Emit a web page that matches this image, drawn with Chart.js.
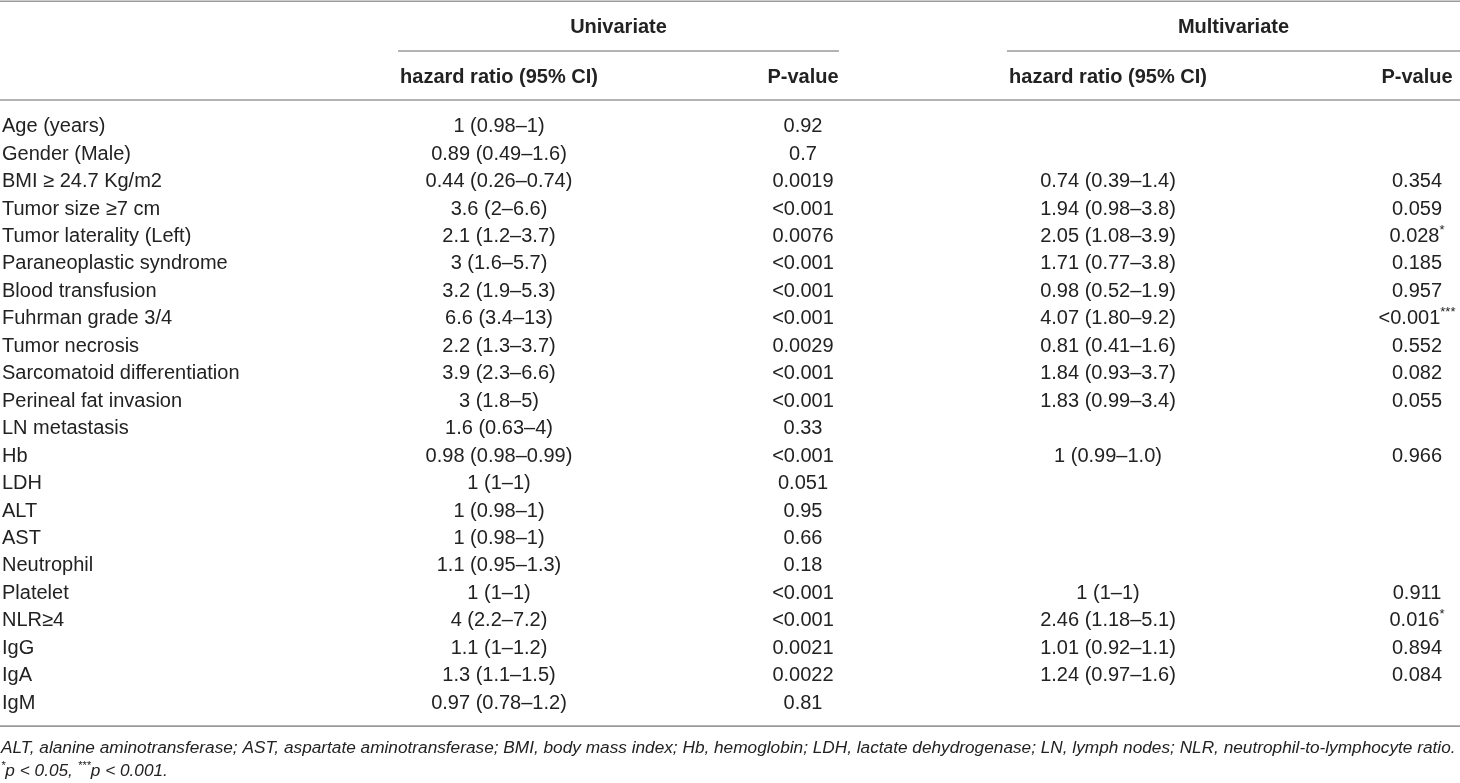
<!DOCTYPE html>
<html>
<head>
<meta charset="utf-8">
<script src="https://cdn.jsdelivr.net/npm/chart.js@4.4.1/dist/chart.umd.min.js"></script>
<style>
  html, body { margin: 0; padding: 0; background: #ffffff; }
  #wrap { width: 1460px; height: 783px; position: relative; }
</style>
</head>
<body>
<div id="wrap"><canvas id="c"></canvas></div>
<script>
// ---------- data ----------
const rowLabels = [
  "Age (years)", "Gender (Male)", "BMI \u2265 24.7 Kg/m2", "Tumor size \u22657 cm",
  "Tumor laterality (Left)", "Paraneoplastic syndrome", "Blood transfusion",
  "Fuhrman grade 3/4", "Tumor necrosis", "Sarcomatoid differentiation",
  "Perineal fat invasion", "LN metastasis", "Hb", "LDH", "ALT", "AST",
  "Neutrophil", "Platelet", "NLR\u22654", "IgG", "IgA", "IgM"
];
const uniHR = [
  "1 (0.98\u20131)", "0.89 (0.49\u20131.6)", "0.44 (0.26\u20130.74)", "3.6 (2\u20136.6)",
  "2.1 (1.2\u20133.7)", "3 (1.6\u20135.7)", "3.2 (1.9\u20135.3)", "6.6 (3.4\u201313)",
  "2.2 (1.3\u20133.7)", "3.9 (2.3\u20136.6)", "3 (1.8\u20135)", "1.6 (0.63\u20134)",
  "0.98 (0.98\u20130.99)", "1 (1\u20131)", "1 (0.98\u20131)", "1 (0.98\u20131)",
  "1.1 (0.95\u20131.3)", "1 (1\u20131)", "4 (2.2\u20137.2)", "1.1 (1\u20131.2)",
  "1.3 (1.1\u20131.5)", "0.97 (0.78\u20131.2)"
];
const uniP = [
  "0.92", "0.7", "0.0019", "<0.001", "0.0076", "<0.001", "<0.001", "<0.001",
  "0.0029", "<0.001", "<0.001", "0.33", "<0.001", "0.051", "0.95", "0.66",
  "0.18", "<0.001", "<0.001", "0.0021", "0.0022", "0.81"
];
const multiHR = [
  null, null, "0.74 (0.39\u20131.4)", "1.94 (0.98\u20133.8)", "2.05 (1.08\u20133.9)",
  "1.71 (0.77\u20133.8)", "0.98 (0.52\u20131.9)", "4.07 (1.80\u20139.2)", "0.81 (0.41\u20131.6)",
  "1.84 (0.93\u20133.7)", "1.83 (0.99\u20133.4)", null, "1 (0.99\u20131.0)", null, null, null,
  null, "1 (1\u20131)", "2.46 (1.18\u20135.1)", "1.01 (0.92\u20131.1)", "1.24 (0.97\u20131.6)", null
];
const multiP = [
  null, null, "0.354", "0.059", "0.028*", "0.185", "0.957", "<0.001***", "0.552",
  "0.082", "0.055", null, "0.966", null, null, null, null, "0.911", "0.016*",
  "0.894", "0.084", null
];
const groupHeaders = ["Univariate", "Multivariate"];
const columnHeaders = ["hazard ratio (95% CI)", "P-value", "hazard ratio (95% CI)", "P-value"];
const footnote1 = "ALT, alanine aminotransferase; AST, aspartate aminotransferase; BMI, body mass index; Hb, hemoglobin; LDH, lactate dehydrogenase; LN, lymph nodes; NLR, neutrophil-to-lymphocyte ratio.";
const footnote2 = [["*", true], ["p < 0.05, ", false], ["***", true], ["p < 0.001.", false]];

// ---------- layout (positions / styles) ----------
const W = 1460, H = 783;
const colX = [2, 499, 803, 1108, 1417];          // label left edge, then column centres
const groupSpan = [[398, 839], [1007, 1460]];
const rowTop = 126.7, rowStep = 27.45;
const yMin = -rowTop / rowStep, yMax = yMin + H / rowStep;
const FONT = "'Liberation Sans', Arial, Helvetica, sans-serif";
const TXT = "#222222", RULE = "#9a9a9a";

function col(values, x) {
  const pts = [];
  values.forEach((v, i) => { if (v !== null) pts.push({ x: x, y: i, t: v }); });
  return pts;
}

const datasets = [
  { label: "labels", data: col(rowLabels, colX[0]), align: "left" },
  { label: "uniHR", data: col(uniHR, colX[1]), align: "center" },
  { label: "uniP", data: col(uniP, colX[2]), align: "center" },
  { label: "multiHR", data: col(multiHR, colX[3]), align: "center" },
  { label: "multiP", data: col(multiP, colX[4]), align: "center" }
].map(d => Object.assign(d, { pointRadius: 0, pointHoverRadius: 0, showLine: false }));

function drawWithSup(ctx, text, x, y, align, size, style) {
  const m = text.match(/^(.*?)(\*+)$/);
  const main = m ? m[1] : text, sup = m ? m[2] : "";
  ctx.font = `${style || ""} ${size}px ${FONT}`;
  const wMain = ctx.measureText(main).width;
  ctx.font = `${style || ""} ${Math.round(size * 0.65)}px ${FONT}`;
  const wSup = sup ? ctx.measureText(sup).width : 0;
  let x0 = align === "left" ? x : x - (wMain + wSup) / 2;
  ctx.textAlign = "left";
  ctx.textBaseline = "middle";
  ctx.font = `${style || ""} ${size}px ${FONT}`;
  ctx.fillText(main, x0, y);
  if (sup) {
    ctx.font = `${style || ""} ${Math.round(size * 0.65)}px ${FONT}`;
    ctx.fillText(sup, x0 + wMain, y - size * 0.32);
  }
}

const tablePlugin = {
  id: "tablePlugin",
  afterDatasetsDraw(chart) {
    const ctx = chart.ctx;
    const ys = chart.scales.y;
    ctx.save();
    ctx.fillStyle = TXT;
    // rules
    ctx.strokeStyle = RULE;
    ctx.lineWidth = 1.6;
    const hline = (x1, x2, y) => { ctx.beginPath(); ctx.moveTo(x1, y); ctx.lineTo(x2, y); ctx.stroke(); };
    hline(0, W, 1.2);
    groupSpan.forEach(s => hline(s[0], s[1], 51));
    hline(0, W, 100);
    hline(0, W, ys.getPixelForValue(rowLabels.length - 1) + 23);
    // group headers
    ctx.font = `bold 20px ${FONT}`;
    ctx.textAlign = "center";
    ctx.textBaseline = "middle";
    groupHeaders.forEach((g, i) => ctx.fillText(g, (groupSpan[i][0] + groupSpan[i][1]) / 2, 27));
    columnHeaders.forEach((h, i) => ctx.fillText(h, colX[i + 1], 77));
    // cells
    chart.data.datasets.forEach((ds, di) => {
      const meta = chart.getDatasetMeta(di);
      meta.data.forEach((el, j) => {
        drawWithSup(ctx, ds.data[j].t, el.x, el.y, ds.align, 20, "");
      });
    });
    // footnotes
    ctx.fillStyle = TXT;
    ctx.font = `italic 20px ${FONT}`;
    const w20 = ctx.measureText(footnote1).width;
    const fs = 20 * 1455 / w20;
    ctx.font = `italic ${fs}px ${FONT}`;
    ctx.textAlign = "left";
    ctx.fillText(footnote1, 1, 748);
    let fx = 1;
    footnote2.forEach(([s, isSup]) => {
      const sz = isSup ? fs * 0.65 : fs;
      ctx.font = `italic ${sz}px ${FONT}`;
      ctx.fillText(s, fx, isSup ? 771 - fs * 0.3 : 771);
      fx += ctx.measureText(s).width;
    });
    ctx.restore();
  }
};

new Chart(document.getElementById("c"), {
  type: "scatter",
  data: { datasets },
  options: {
    responsive: true,
    maintainAspectRatio: false,
    animation: false,
    events: [],
    layout: { padding: 0 },
    plugins: { legend: { display: false }, tooltip: { enabled: false } },
    scales: {
      x: { type: "linear", min: 0, max: W, display: false },
      y: { type: "linear", min: yMin, max: yMax, reverse: true, display: false }
    }
  },
  plugins: [tablePlugin]
});
</script>
</body>
</html>
